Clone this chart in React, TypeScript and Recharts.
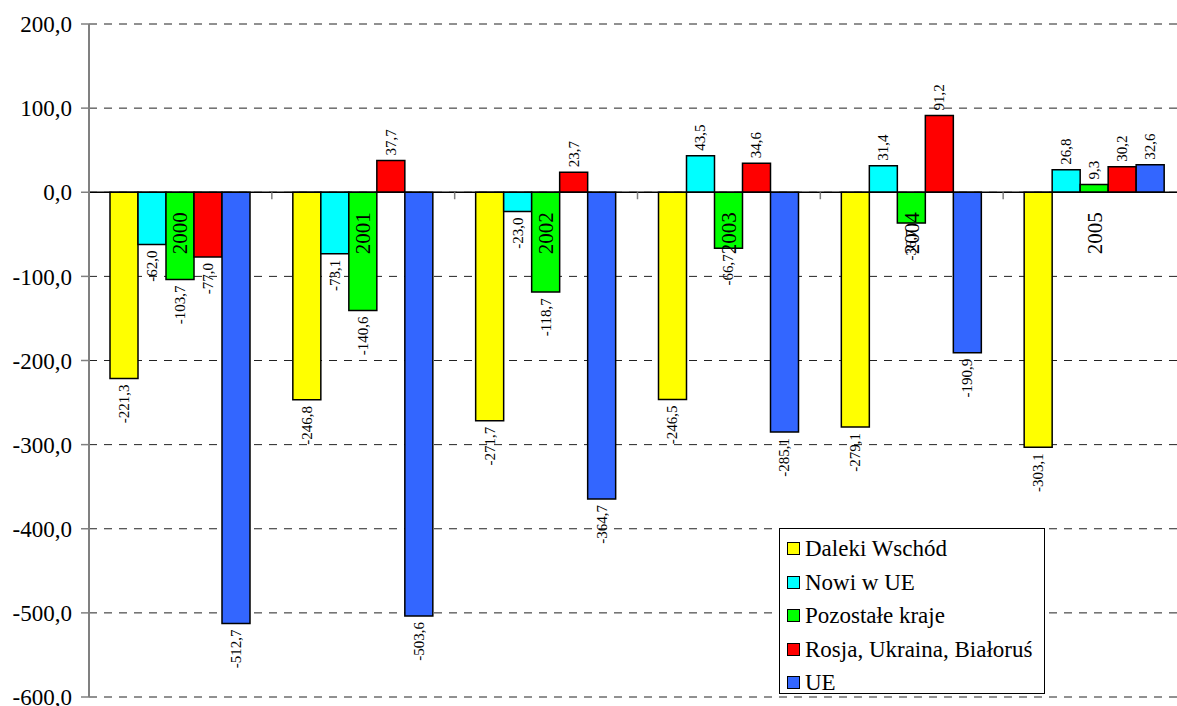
import React from "react";
import { BarChart, Bar, XAxis, YAxis, CartesianGrid, ReferenceLine, Legend, LabelList } from "recharts";

const years = ["2000", "2001", "2002", "2003", "2004", "2005"];
const dalekiWschod = [-221.3, -246.8, -271.7, -246.5, -279.1, -303.1];
const nowiWUE = [-62.0, -73.1, -23.0, 43.5, 31.4, 26.8];
const pozostaleKraje = [-103.7, -140.6, -118.7, -66.7, -36.7, 9.3];
const rosjaUkrainaBialorus = [-77.0, 37.7, 23.7, 34.6, 91.2, 30.2];
const ue = [-512.7, -503.6, -364.7, -285.1, -190.9, 32.6];
const yTicks = [200, 100, 0, -100, -200, -300, -400, -500, -600];

const SERIES = [
  { key: "dw", name: "Daleki Wschód", color: "#ffff00", values: dalekiWschod },
  { key: "nue", name: "Nowi w UE", color: "#00ffff", values: nowiWUE },
  { key: "pk", name: "Pozostałe kraje", color: "#00ff00", values: pozostaleKraje },
  { key: "rub", name: "Rosja, Ukraina, Białoruś", color: "#ff0000", values: rosjaUkrainaBialorus },
  { key: "ue", name: "UE", color: "#3366ff", values: ue },
];

const data = years.map((year, i) => {
  const row: Record<string, number | string> = { year };
  SERIES.forEach((s) => (row[s.key] = s.values[i]));
  return row;
});

const FONT = "Liberation Serif, DejaVu Serif, Times New Roman, Times, serif";
const W = 1195;
const H = 706;
const X_H = 9;
const MARGIN = { top: 24, right: 9, bottom: 0, left: 0 };
const Y_W = 89;
const PLOT_H = H - MARGIN.top - MARGIN.bottom - X_H;
const PLOT_W = W - MARGIN.left - MARGIN.right - Y_W;
const BAND = PLOT_W / years.length;
const ZERO_Y = MARGIN.top + (PLOT_H * 200) / 800;

const fmt = (v: number) => v.toFixed(1).replace(".", ",");

function ValueLabel(props: any) {
  const { x, y, width, height, value } = props;
  const v = Number(value);
  const cx = x + width / 2;
  const top = Math.min(y, y + height);
  const bottom = Math.max(y, y + height);
  const ay = v < 0 ? bottom + 6 : top - 5;
  return (
    <text
      x={cx}
      y={ay}
      transform={`rotate(-90 ${cx} ${ay})`}
      textAnchor={v < 0 ? "end" : "start"}
      dominantBaseline="central"
      fontSize={15}
      fontFamily={FONT}
      fill="#000"
    >
      {fmt(v)}
    </text>
  );
}

function YearTick(props: any) {
  const { x, payload, index } = props;
  const ly = ZERO_Y + 41;
  return (
    <g>
      <text
        x={x}
        y={ly}
        transform={`rotate(-90 ${x} ${ly})`}
        textAnchor="middle"
        dominantBaseline="central"
        fontSize={21}
        fontFamily={FONT}
        fill="#000"
      >
        {payload.value}
      </text>
      {index < years.length - 1 && (
        <line x1={x + BAND / 2} x2={x + BAND / 2} y1={ZERO_Y} y2={ZERO_Y + 7} stroke="#808080" strokeWidth={1.5} />
      )}
    </g>
  );
}

function LegendBox() {
  return (
    <div
      style={{
        width: 266,
        height: 166,
        border: "1px solid #000",
        background: "#fff",
        fontFamily: FONT,
        fontSize: 23,
        color: "#000",
        padding: "3px 0 0 7px",
        boxSizing: "border-box",
      }}
    >
      {SERIES.map((s) => (
        <div key={s.key} style={{ display: "flex", alignItems: "center", height: 33.5 }}>
          <span
            style={{
              width: 11,
              height: 11,
              background: s.color,
              border: "1px solid #000",
              marginRight: 5,
              flexShrink: 0,
            }}
          />
          <span style={{ whiteSpace: "nowrap", lineHeight: 1 }}>{s.name}</span>
        </div>
      ))}
    </div>
  );
}

export default function App() {
  return (
    <div style={{ position: "absolute", left: 0, top: 0, width: 1177, height: 706, overflow: "hidden", background: "#fff", fontFamily: FONT }}>
      <BarChart
        width={W}
        height={H}
        data={data}
        margin={MARGIN}
        barCategoryGap={21}
        barGap={0}
        style={{ fontFamily: FONT }}
      >
        <CartesianGrid vertical={false} stroke="#222" strokeDasharray="8 7" />
        <XAxis dataKey="year" height={X_H} axisLine={false} tickLine={false} tick={<YearTick />} interval={0} />
        <YAxis
          width={Y_W}
          domain={[-600, 200]}
          ticks={yTicks}
          interval={0}
          tickFormatter={fmt}
          axisLine={{ stroke: "#808080", strokeWidth: 2 }}
          tickLine={{ stroke: "#808080", strokeWidth: 1.5 }}
          tickSize={8}
          tickMargin={9}
          tick={{ fill: "#000", fontSize: 23, fontFamily: FONT }}
        />
        <Legend
          layout="vertical"
          align="center"
          verticalAlign="middle"
          wrapperStyle={{ left: 779, top: 528, width: 266, height: 166 }}
          content={() => <LegendBox />}
        />
        {SERIES.map((s) => (
          <Bar key={s.key} dataKey={s.key} name={s.name} fill={s.color} stroke="#000" strokeWidth={1.5} isAnimationActive={false}>
            <LabelList dataKey={s.key} content={<ValueLabel />} />
          </Bar>
        ))}
        <ReferenceLine y={0} stroke="#000" strokeWidth={1.5} />
      </BarChart>
    </div>
  );
}
